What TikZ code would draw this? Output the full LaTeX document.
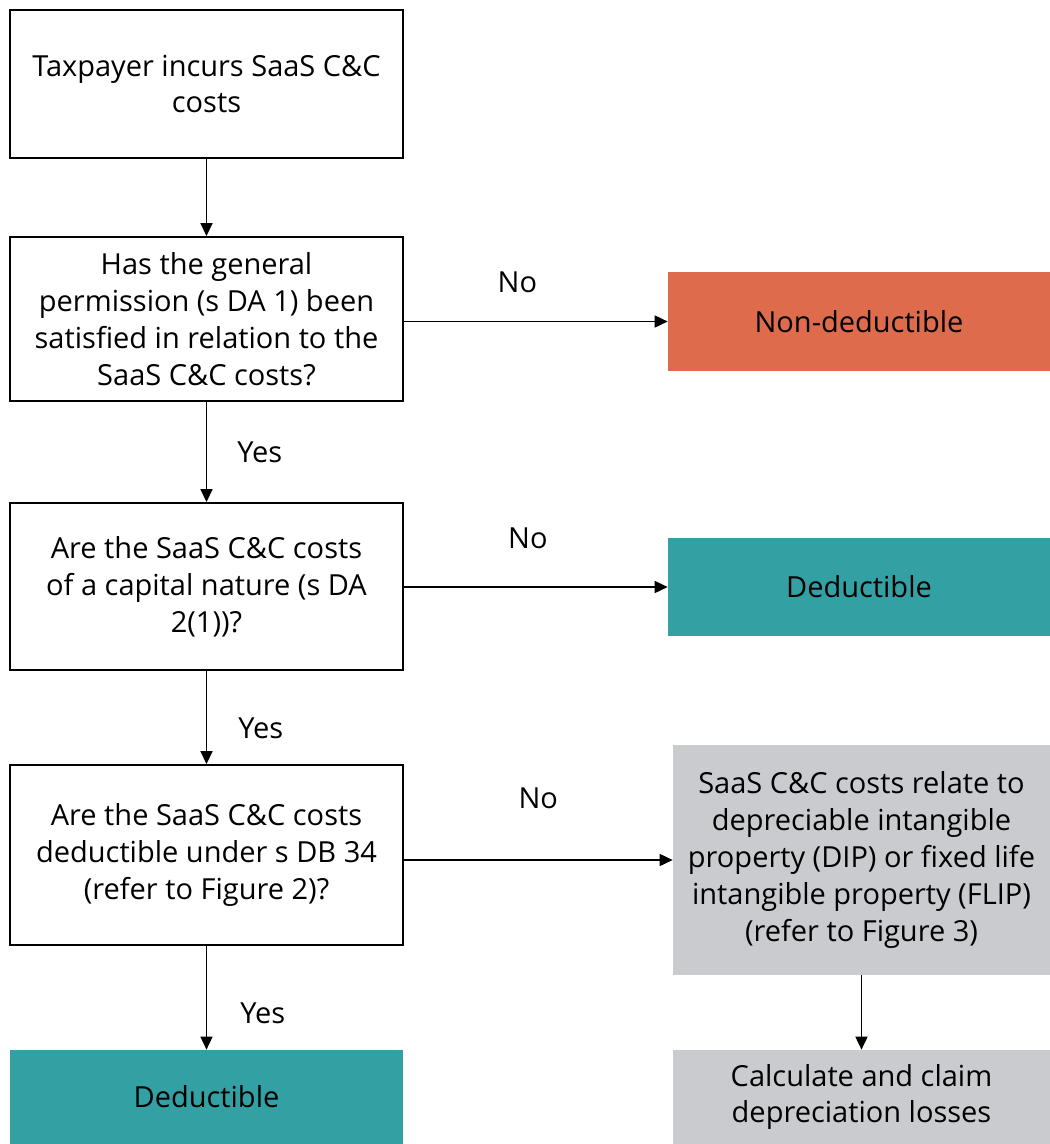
\documentclass[tikz,border=0pt]{standalone}
\usepackage{fontspec}
\setmainfont{Open Sans}
\usepackage{xcolor}
\usetikzlibrary{arrows.meta, positioning}
\definecolor{nodeduct}{HTML}{DE6B4B}
\definecolor{deduct}{HTML}{33A0A3}
\definecolor{depbox}{HTML}{C9CBCE}

\begin{document}
\begin{tikzpicture}[
    x=0.02cm, y=-0.02cm,
    every node/.style={font=\fontsize{16.5}{21}\selectfont, align=center, inner sep=0pt},
    question/.style={rectangle, draw=black, line width=1.1pt, fill=white, minimum width=7.86cm},
    outcome/.style={rectangle, minimum width=7.64cm, minimum height=1.97cm},
    flow/.style={draw, -{Triangle[length=2.6mm, width=2.4mm]}, line width=0.95pt},
    answer/.style={font=\fontsize{16.5}{21}\selectfont}
]
\useasboundingbox (0,0) rectangle (1050,1144);

% left column
\node[question, minimum height=2.96cm] (incur) at (206.5,84) {Taxpayer incurs SaaS C\&C\\costs};
\node[question, minimum height=3.28cm] (permit) at (206.5,319) {Has the general\\permission (s DA 1) been\\satisfied in relation to the\\SaaS C\&C costs?};
\node[question, minimum height=3.34cm] (capital) at (206.5,586.5) {Are the SaaS C\&C costs\\of a capital nature (s DA\\2(1))?};
\node[question, minimum height=3.6cm] (db34) at (206.5,855) {Are the SaaS C\&C costs\\deductible under s DB 34\\(refer to Figure 2)?};
\node[outcome, fill=deduct, minimum width=7.86cm, minimum height=1.88cm] (dedlow) at (206.5,1097) {Deductible};

% right column
\node[outcome, fill=nodeduct] (nondeduct) at (859,321.5) {Non-deductible};
\node[outcome, fill=deduct, minimum height=1.96cm] (dedhigh) at (859,587) {Deductible};
\node[outcome, fill=depbox, minimum width=7.54cm, minimum height=4.6cm] (dipflip) at (861.5,860) {SaaS C\&C costs relate to\\depreciable intangible\\property (DIP) or fixed life\\intangible property (FLIP)\\(refer to Figure 3)};
\node[outcome, fill=depbox, minimum width=7.54cm, minimum height=1.88cm] (claim) at (861.5,1097) {Calculate and claim\\depreciation losses};

% connectors
\draw[flow] (incur) -- (permit);
\draw[flow] (permit) -- node[answer, right=0.6cm] {Yes} (capital);
\draw[flow] (capital) -- node[answer, right=0.62cm, pos=0.62] {Yes} (db34);
\draw[flow] (db34) -- node[answer, right=0.66cm, pos=0.65] {Yes} (dedlow);
\draw[flow] (permit.east |- nondeduct) -- node[answer, above=0.55cm, pos=0.43] {No} (nondeduct);
\draw[flow] (capital.east |- dedhigh) -- node[answer, above=0.75cm, pos=0.47] {No} (dedhigh);
\draw[flow] (db34.east |- dipflip) -- node[answer, above=1.0cm, pos=0.5] {No} (dipflip);
\draw[flow] (dipflip) -- (claim);
\end{tikzpicture}
\end{document}
